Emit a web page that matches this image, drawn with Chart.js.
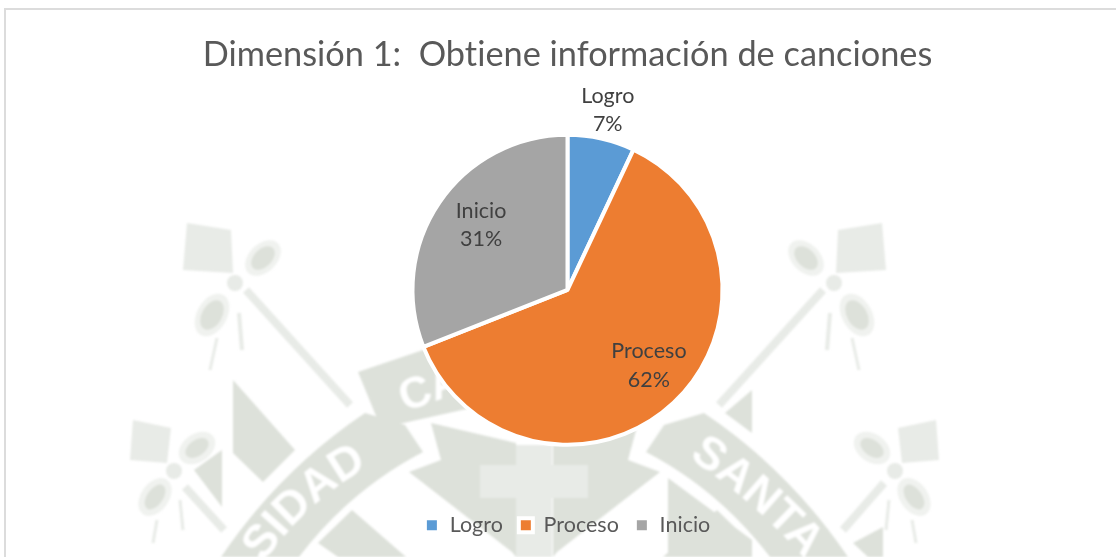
<!DOCTYPE html>
<html>
<head>
<meta charset="utf-8">
<title>Dimensión 1</title>
<script src="https://cdn.jsdelivr.net/npm/chart.js@4"></script>
<style>
    html, body { margin: 0; padding: 0; background: #fff; overflow: hidden; }
    #marco { position: absolute; left: 4px; top: 8px; width: 1200px; height: 700px; border: 2px solid #dcdcdc; }
    #sello { position: absolute; left: 0; top: 0; filter: blur(0.8px); }
    #grafico { position: absolute; left: 0; top: 0; }
</style>
</head>
<body>
<svg id="sello" width="1116" height="557" viewBox="0 0 1116 557">
    <defs>
        <g id="mitad">
            <polygon fill="#e8ebe7" points="187,223 231,230 233,273 183,270"/>
            <ellipse cx="263" cy="258" rx="21" ry="14" transform="rotate(-45 263 258)" fill="#f0f2ef"/>
            <ellipse cx="263" cy="258" rx="14" ry="9" transform="rotate(-45 263 258)" fill="#dde1da"/>
            <circle cx="235" cy="283" r="8" fill="#e8ebe7"/>
            <ellipse cx="212" cy="315" rx="23" ry="15" transform="rotate(-60 212 315)" fill="#f0f2ef"/>
            <ellipse cx="212" cy="315" rx="16" ry="10" transform="rotate(-60 212 315)" fill="#dde1da"/>
            <line x1="246" y1="290" x2="350" y2="405" stroke="#e8ebe7" stroke-width="8"/>
            <line x1="217" y1="338" x2="210" y2="370" stroke="#e8ebe7" stroke-width="3"/>
            <line x1="239" y1="313" x2="242" y2="350" stroke="#e8ebe7" stroke-width="4"/>
            <polygon fill="#e8ebe7" points="133,420 171,428 167,463 130,460"/>
            <ellipse cx="197" cy="448" rx="20" ry="14" transform="rotate(-35 197 448)" fill="#f0f2ef"/>
            <ellipse cx="197" cy="448" rx="13" ry="8" transform="rotate(-35 197 448)" fill="#dde1da"/>
            <circle cx="174" cy="471" r="8" fill="#e8ebe7"/>
            <ellipse cx="155" cy="497" rx="21" ry="14" transform="rotate(-55 155 497)" fill="#f0f2ef"/>
            <ellipse cx="155" cy="497" rx="14" ry="8" transform="rotate(-55 155 497)" fill="#dde1da"/>
            <line x1="157" y1="520" x2="153" y2="543" stroke="#e8ebe7" stroke-width="3"/>
            <line x1="180" y1="500" x2="183" y2="530" stroke="#e8ebe7" stroke-width="3"/>
            <path d="M365 413 Q280 470 221 557 L299 557 Q350 490 423 452 L405 425 Z" fill="#dde1da"/>
            <polygon fill="#dde1da" points="431,423 516,443 516,557 512,552 409,472 441,460"/>
            <polygon fill="#dde1da" points="352,510 406,557 338,557 318,543"/>
        </g>
    </defs>
    <use href="#mitad"/>
    <polygon fill="#dde1da" points="233,380 295,450 263,482 233,453"/>
    <polygon fill="#dde1da" points="222,450 222,507 194,470"/>
    <line x1="185" y1="487" x2="224" y2="530" stroke="#e8ebe7" stroke-width="8"/>
    <use href="#mitad" transform="translate(1069 0) scale(-1 1)"/>
    <polygon fill="#dde1da" points="752,390 725,413 752,433"/>
    <polygon fill="#dde1da" points="668,478 752,540 752,557 668,557"/>
    <line x1="884" y1="483" x2="843" y2="530" stroke="#e8ebe7" stroke-width="8"/>
    <polygon fill="#dde1da" points="853,543 883,527 883,557 868,557"/>
    <polygon fill="#dde1da" points="358,372 423,350 480,345 480,406 381,428"/>
    <polygon fill="#e8ebe7" points="516,445 552,445 552,465 588,465 588,498 552,498 552,557 516,557 516,498 480,498 480,465 516,465"/>
    <path id="curvaIzq" fill="none" d="M255 575 Q300 505 370 466"/>
    <path id="curvaDer" fill="none" d="M680 452 Q770 510 830 590"/>
    <text font-family="Liberation Sans" font-weight="bold" font-size="46" fill="#fff"><textPath href="#curvaIzq" startOffset="15">SIDAD</textPath></text>
    <text font-family="Liberation Sans" font-weight="bold" font-size="46" fill="#fff"><textPath href="#curvaDer" startOffset="10">SANTA</textPath></text>
    <text x="405" y="412" font-family="Liberation Sans" font-weight="bold" font-size="44" fill="#fff" transform="rotate(-20 405 412)">CA</text>
</svg>
<div id="marco"></div>
<canvas id="grafico" width="1116" height="557"></canvas>

<script>
const titulo = "Dimensión 1:  Obtiene información de canciones"
const categorias = ["Logro", "Proceso", "Inicio"]
const valores = [7, 62, 31]
const colores = ["#5b9bd5", "#ed7d31", "#a5a5a5"]

// donde va cada etiqueta respecto a su sector
const etiqueta_radio = [1.19, 0.716, 0.697]
const etiqueta_giro = [0, -0.07, 0.047]

const etiquetas = {
    id: "etiquetas",
    beforeDraw(chart) {
        // sin ligaduras: la "ti" de Lato no sale en el original
        chart.ctx.letterSpacing = "0.01px"
    },
    afterDatasetsDraw(chart) {
        const ctx = chart.ctx
        const arcos = chart.getDatasetMeta(0).data
        ctx.save()
        ctx.font = "21.5px Lato"
        ctx.fillStyle = "#404040"
        ctx.textAlign = "center"
        ctx.textBaseline = "middle"
        arcos.forEach((arco, i) => {
            const medio = (arco.startAngle + arco.endAngle) / 2 + etiqueta_giro[i]
            const r = arco.outerRadius * etiqueta_radio[i]
            const x = arco.x + Math.cos(medio) * r
            const y = arco.y + Math.sin(medio) * r
            ctx.fillText(categorias[i], x, y - 14)
            ctx.fillText(valores[i] + "%", x, y + 14.5)
        })
        ctx.restore()
    }
}

new Chart(document.getElementById("grafico"), {
    type: "pie",
    data: {
        labels: categorias,
        datasets: [{
            data: valores,
            backgroundColor: colores,
            borderColor: "#ffffff",
            borderWidth: 4,
            radius: 155,
        }]
    },
    options: {
        responsive: false,
        animation: false,
        layout: { padding: { left: 19, bottom: 11 } },
        plugins: {
            tooltip: { enabled: false },
            title: {
                display: true,
                text: titulo,
                color: "#595959",
                font: { family: "Lato", size: 34.3, weight: "normal" },
                padding: { top: 34, bottom: 6 },
            },
            legend: {
                position: "bottom",
                labels: {
                    color: "#595959",
                    font: { family: "Lato", size: 21.5 },
                    boxWidth: 14,
                    boxHeight: 14,
                    padding: 16,
                },
            },
        },
    },
    plugins: [etiquetas],
})
</script>
</body>
</html>
